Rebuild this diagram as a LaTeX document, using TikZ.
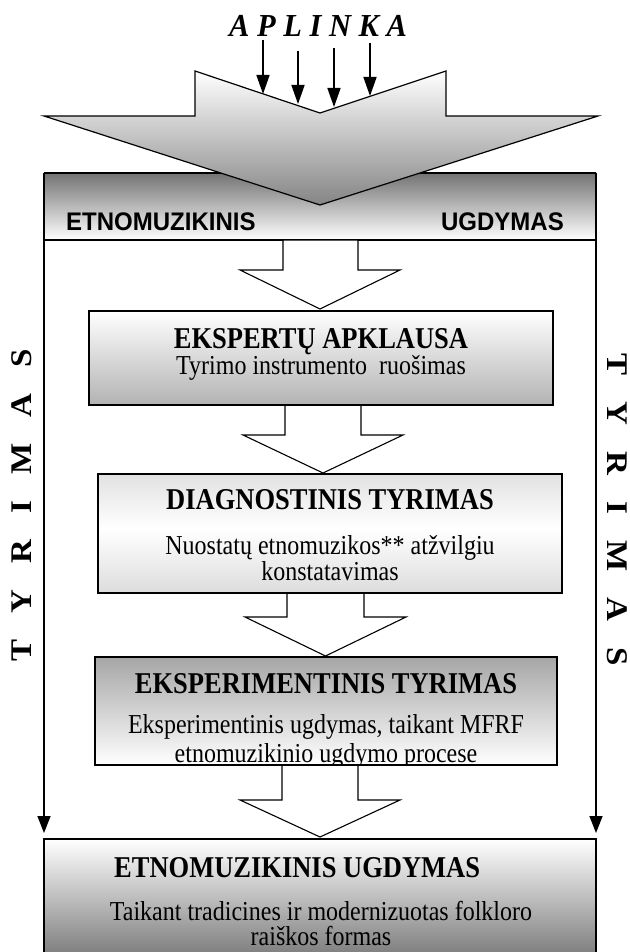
\documentclass[tikz,border=0pt]{standalone}
\usepackage{fontspec}
\usepackage{graphicx}
\setmainfont{Liberation Serif}
\newfontfamily\hdrfont{Liberation Sans}
\usetikzlibrary{arrows.meta,calc}
\newcommand\vs[1]{\scalebox{1}[1.14]{#1}}
\newcommand\sidetext{\scalebox{1.1}[1]{T\kern23.7pt Y\kern23.7pt R\kern23.7pt I\kern23.7pt M\kern23.7pt A\kern23.7pt S}}
\pgfdeclareverticalshading{diagshade}{100bp}{color(0bp)=(black!26); color(12bp)=(black!20); color(52bp)=(white); color(88bp)=(black!18); color(100bp)=(black!24)}
\tikzset{
  outline/.style={draw=black, line width=1.6pt},
  blockarrow/.style={draw=black, fill=white, line width=1.1pt, line join=miter},
  smallarrow/.style={line width=1.6pt, -{Triangle[length=19pt,width=13pt]}},
  sidearrow/.style={line width=1.5pt, -{Triangle[length=17pt,width=13pt]}},
  ttl/.style={font=\fontsize{26.5}{28}\selectfont\bfseries, anchor=base, inner sep=0pt},
  sub/.style={font=\fontsize{24}{24}\selectfont, anchor=base, inner sep=0pt},
  hdr/.style={font=\hdrfont\fontsize{24}{24}\selectfont\bfseries, anchor=base, inner sep=0pt},
  side/.style={font=\fontsize{30}{30}\selectfont\bfseries, inner sep=0pt},
}
\begin{document}
\begin{tikzpicture}[x=1pt,y=-1pt]
\useasboundingbox (0,0) rectangle (629,952);
\clip (0,0) rectangle (629,952);

% header band of the frame
\shade[top color=black!55, bottom color=white] (44,173) rectangle (596,240);
\draw[line width=1.3pt] (44,173) -- (596,173);
\draw[line width=1.3pt] (44,240) -- (596,240);
\node[hdr, anchor=base west] (hleft) at (66,230) {\scalebox{1}[1.06]{ETNOMUZIKINIS}};
\node[hdr, anchor=base east] (hright) at (564,230) {\scalebox{1}[1.06]{UGDYMAS}};

% side arrows of the frame
\coordinate (ltop) at (44,173);
\coordinate (lbot) at (44,833);
\coordinate (rtop) at (596,173);
\coordinate (rbot) at (596,833);
\draw[sidearrow] (ltop) -- (lbot);
\draw[sidearrow] (rtop) -- (rbot);

% big environment arrow
\shade[top color=white, bottom color=black!48, draw=black, line width=1.2pt, line join=miter]
  (195,71) -- (320,113) -- (446,71) -- (446,116) -- (598,116) -- (320,205)
  -- (44,116) -- (195,116) -- cycle;

% APLINKA and its arrows
\node[font=\fontsize{30.5}{30}\selectfont\bfseries\itshape, anchor=base, inner sep=0pt] (aplinka) at (318,37) {\scalebox{1}[1.05]{A P L I N K A}};
\coordinate (s1) at (263,40);  \coordinate (e1) at (263,94);
\coordinate (s2) at (298,51);  \coordinate (e2) at (298,104);
\coordinate (s3) at (334,48);  \coordinate (e3) at (334,107);
\coordinate (s4) at (370,43);  \coordinate (e4) at (370,96);
\foreach \i in {1,...,4} \draw[smallarrow] (s\i) -- (e\i);

% side texts
\node[side, rotate=90] (tyrL) at (22,505) {\sidetext};
\node[side, rotate=-90] (tyrR) at (617,510) {\sidetext};

% block arrows
\draw[blockarrow] (283,240) -- (283,270) -- (240,270) -- (320,309) -- (400,270) -- (358,270) -- (358,240) -- cycle;
\draw[blockarrow] (285,405) -- (285,435) -- (243,435) -- (323,473) -- (403,435) -- (361,435) -- (361,405) -- cycle;
\draw[blockarrow] (287,593) -- (287,617) -- (245,617) -- (325.5,656) -- (406,617) -- (364,617) -- (364,593) -- cycle;
\draw[blockarrow] (282,765) -- (282,800) -- (240,800) -- (320,837) -- (400,800) -- (358,800) -- (358,765) -- cycle;

% box 1
\shade[top color=white, bottom color=black!30] (89,311) rectangle (553,405);
\draw[outline] (89,311) rectangle (553,405);
\node[ttl] (b1t) at (321,348) {\vs{EKSPERTŲ APKLAUSA}};
\node[sub] (b1s) at (321,374) {\vs{Tyrimo instrumento\ \ ruošimas}};

% box 2
\shade[shading=diagshade] (98,474) rectangle (562,593);
\draw[outline] (98,474) rectangle (562,593);
\node[ttl] (b2t) at (330,509) {\vs{DIAGNOSTINIS TYRIMAS}};
\node[sub] (b2s1) at (330,554) {\vs{Nuostatų etnomuzikos** atžvilgiu}};
\node[sub] (b2s2) at (330,580) {\vs{konstatavimas}};

% box 3
\shade[top color=black!35, bottom color=white] (95,657) rectangle (557,765);
\begin{scope}
\clip (95,657) rectangle (557,765);
\node[ttl] (b3t) at (326,693) {\vs{EKSPERIMENTINIS TYRIMAS}};
\node[sub] (b3s1) at (326,733) {\vs{Eksperimentinis ugdymas, taikant MFRF}};
\node[sub] (b3s2) at (326,762) {\vs{etnomuzikinio ugdymo procese}};
\end{scope}
\draw[outline] (95,657) rectangle (557,765);

% box 4
\shade[top color=white, bottom color=black!55] (44,839) rectangle (596,965);
\draw[outline] (44,839) rectangle (596,965);
\node[ttl, anchor=base west] (b4t) at (114,877) {\vs{ETNOMUZIKINIS UGDYMAS}};
\node[sub] (b4s1) at (321,920) {\vs{Taikant tradicines ir modernizuotas folkloro}};
\node[sub] (b4s2) at (321,945) {\vs{raiškos formas}};
\end{tikzpicture}
\end{document}
